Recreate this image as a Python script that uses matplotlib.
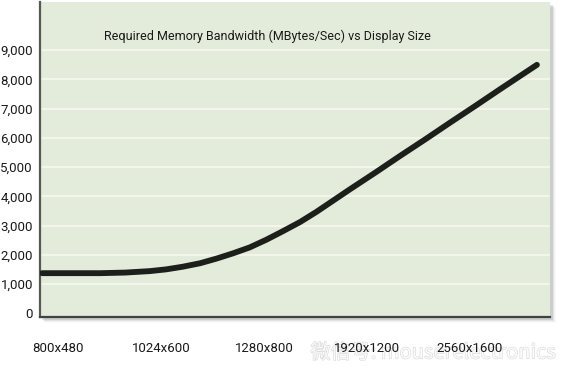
import matplotlib
matplotlib.use("Agg")
import matplotlib.pyplot as plt
import matplotlib.patheffects as pe
from matplotlib.patches import Rectangle

categories = ["800x480", "1024x600", "1280x800", "1920x1200", "2560x1600"]
# curve samples (x in category-index units, y in MBytes/sec)
curve_x = [-0.155, 0.15, 0.41, 0.65, 0.89, 1.05, 1.21, 1.38, 1.54, 1.70, 1.86, 2.02, 2.18, 2.35, 2.51, 2.67, 2.83, 3.08, 3.32, 3.57, 3.81, 4.05, 4.29, 4.47, 4.65]
curve_y = [1370, 1370, 1370, 1390, 1440, 1500, 1590, 1710, 1870, 2050, 2250, 2510, 2800, 3120, 3470, 3850, 4230, 4810, 5380, 5960, 6530, 7090, 7660, 8080, 8500]
yticks = [0, 1000, 2000, 3000, 4000, 5000, 6000, 7000, 8000, 9000]
title = "Required Memory Bandwidth (MBytes/Sec) vs Display Size"

font = ["Roboto", "DejaVu Sans"]

fig = plt.figure(figsize=(5.65, 3.66), dpi=100)
fig.patch.set_facecolor("white")
W, H = 565, 366
left, right, top, bottom = 40, 550, 2, 317
ax = fig.add_axes([left / W, 1 - bottom / H, (right - left) / W, (bottom - top) / H])
ax.set_facecolor("#e3ebda")

# soft drop shadow
for i, a in enumerate([0.09, 0.06, 0.035, 0.02]):
    fig.patches.append(Rectangle(((left + 2 + i) / W, 1 - (bottom + 3 + i) / H),
                                 (right - left + 1) / W, (bottom - top) / H,
                                 transform=fig.transFigure, facecolor="black",
                                 alpha=a, edgecolor="none", zorder=-1))

ax.plot(curve_x, curve_y, color="#1c1f1a", lw=4.2, solid_capstyle="round",
        solid_joinstyle="round", zorder=3)

ax.set_xlim(-0.175, 4.777)
ax.set_ylim(-130, 10650)
ax.set_yticks(yticks)
ax.set_yticklabels([f"{v:,}" for v in yticks], family=font, fontsize=9.5, color="#1a1a1a")
ax.set_xticks(range(len(categories)))
ax.set_xticklabels(categories, family=font, fontsize=9.5, color="#1a1a1a")
ax.tick_params(axis="both", length=0)
ax.tick_params(axis="x", pad=18)
ax.tick_params(axis="y", pad=5)
for v in yticks[1:]:
    ax.axhline(v, color="#f7f8ee", lw=1.2, zorder=1)

for s in ["top", "right"]:
    ax.spines[s].set_visible(False)
ax.spines["left"].set_color("#555a55")
ax.spines["left"].set_linewidth(1.6)
ax.spines["bottom"].set_color("#3f443f")
ax.spines["bottom"].set_linewidth(1.6)

ax.text(0.445, 0.892, title, transform=ax.transAxes, ha="center", va="center",
        family=font, fontsize=9.0, color="#1a1a1a")

fig.text(556 / W, 1 - 353 / H, "微信号: mouserelectronics", ha="right", va="center",
         family=["Noto Sans CJK SC", "DejaVu Sans"], fontsize=14.5, color="white",
         path_effects=[pe.withStroke(linewidth=0.8, foreground="#cfcfcf")],
         alpha=0.8, zorder=-0.5)

fig.savefig("out.png", dpi=100)
